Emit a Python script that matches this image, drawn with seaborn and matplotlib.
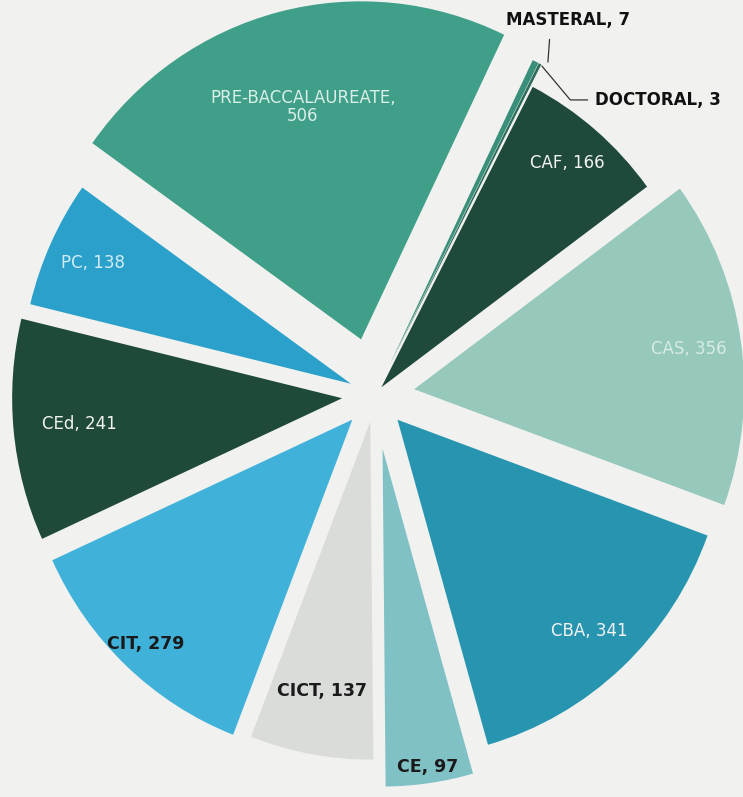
import numpy as np
import seaborn as sns
import matplotlib.pyplot as plt

# enrollment by college / level
labels = ["MASTERAL", "DOCTORAL", "CAF", "CAS", "CBA", "CE", "CICT", "CIT", "CEd", "PC", "PRE-BACCALAUREATE"]
counts = [7, 3, 166, 356, 341, 97, 137, 279, 241, 138, 506]

colors = ["#3a8f7a", "#2b6b58", "#1f4a3b", "#96c8bb", "#2795b0", "#80c1c6",
          "#d9dcd9", "#40b2d9", "#1e4a37", "#2aa0cb", "#3f9f88"]
text_colors = ["k", "k", "#f2f2f2", "#d6ece5", "#f2f2f2", "#1a1a1a",
               "#1a1a1a", "#1a1a1a", "#f2f2f2", "#d3edf5", "#d9efe7"]
explode = [0.1, 0.1, 0.03, 0.12, 0.1, 0.16, 0.08, 0.1, 0.1, 0.08, 0.17]
label_r = [0, 0, 0.87, 0.84, 0.853, 0.953, 0.81, 0.912, 0.8, 0.86, 0.71]

sns.set_theme(style="white")
plt.rcParams["font.family"] = ["DejaVu Sans"]

fig = plt.figure(figsize=(7.43, 7.97), dpi=100, facecolor="#f1f2f0")
ax = fig.add_axes([0, 0, 1, 1])
ax.set_facecolor("#f1f2f0")

wedges, _ = ax.pie(counts, colors=colors, explode=explode, startangle=64.3,
                   counterclock=False, wedgeprops=dict(linewidth=0))

# the photographed chart is a touch taller than wide
sx, sy = 330.0, 338.0
ax.set_aspect("auto")
ax.set_xlim(-375 / sx, 368 / sx)
ax.set_ylim(-402 / sy, 395 / sy)
ax.axis("off")

for i, w in enumerate(wedges):
    if i < 2:
        continue
    mid = np.deg2rad((w.theta1 + w.theta2) / 2)
    cx, cy = w.center
    r = label_r[i]
    name = labels[i]
    txt = f"{name},\n{counts[i]}" if name.startswith("PRE") else f"{name}, {counts[i]}"
    dark = text_colors[i] == "#1a1a1a"
    ax.text(cx + r * np.cos(mid), cy + r * np.sin(mid), txt,
            ha="center", va="center", fontsize=12.5 if dark else 12, color=text_colors[i],
            fontweight="bold" if dark else "normal", linespacing=1.0)

# small slices labelled outside
ax.annotate(f"{labels[0]}, {counts[0]}", xy=(0.524, 0.985), xytext=(0.585, 1.109),
            ha="center", va="center", fontsize=12, fontweight="bold", color="#111111",
            arrowprops=dict(arrowstyle="-", color="#333333", lw=0.9, relpos=(0.357, 0),
                            connectionstyle="arc3,rad=0", shrinkA=5, shrinkB=0))

d = wedges[1]
mid = np.deg2rad((d.theta1 + d.theta2) / 2)
tip = (d.center[0] + 1.0 * np.cos(mid), d.center[1] + 1.0 * np.sin(mid))
ax.annotate(f"{labels[1]}, {counts[1]}", xy=tip, xytext=(0.667, 0.873),
            ha="left", va="center", fontsize=12, fontweight="bold", color="#111111",
            arrowprops=dict(arrowstyle="-", color="#333333", lw=0.9,
                            connectionstyle="angle,angleA=0,angleB=130,rad=0",
                            shrinkA=3, shrinkB=2))

fig.savefig("out.png", dpi=100, facecolor=fig.get_facecolor())
